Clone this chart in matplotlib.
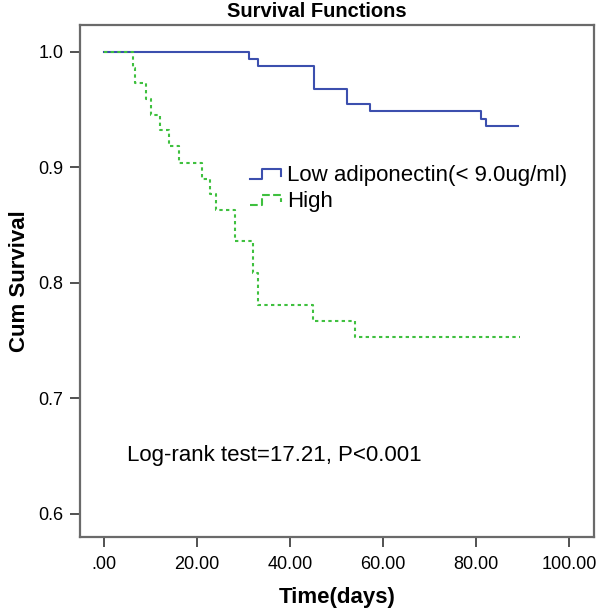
import numpy as np
import matplotlib
matplotlib.use('Agg')
import matplotlib.pyplot as plt
from matplotlib.lines import Line2D
from matplotlib.legend_handler import HandlerBase

plt.rcParams['font.family'] = ['Liberation Sans', 'DejaVu Sans']

# Kaplan-Meier steps
low_days = [0, 31.2, 33.2, 45.2, 52.2, 57.1, 81.1, 82.2, 89.0]
low_surv = [1.0, 0.9935, 0.9871, 0.9677, 0.9548, 0.9484, 0.9419, 0.9355, 0.9355]

high_days = [0, 6.2, 6.7, 9.0, 10.0, 12.0, 14.0, 16.1, 21.0, 22.8, 24.1, 28.1,
             32.1, 33.0, 45.0, 54.0, 89.5]
high_surv = [1.0, 0.986, 0.973, 0.959, 0.945, 0.932, 0.918, 0.904, 0.890, 0.877,
             0.863, 0.836, 0.808, 0.781, 0.767, 0.753, 0.753]

xticks = [0, 20, 40, 60, 80, 100]
xlabels = ['.00', '20.00', '40.00', '60.00', '80.00', '100.00']
yticks = [0.6, 0.7, 0.8, 0.9, 1.0]

blue = '#3c4fae'
green = '#3fc03f'


class StepHandler(HandlerBase):
    def create_artists(self, legend, orig, xd, yd, w, h, fs, trans):
        xs = [xd, xd + 0.4 * w, xd + 0.4 * w, xd + w, xd + w]
        ys = [yd + 0.1 * h, yd + 0.1 * h, yd + 0.75 * h, yd + 0.75 * h, yd + 0.3 * h]
        ln = Line2D(xs, ys, color=orig.get_color(), lw=orig.get_linewidth(),
                    linestyle=orig.get_linestyle(), transform=trans)
        return [ln]


fig = plt.figure(figsize=(5.98, 6.12), dpi=100)
ax = fig.add_axes([0.1338, 0.1225, 0.8595, 0.8367])

l1, = ax.step(low_days, low_surv, where='post', color=blue, lw=1.5,
              label='Low adiponectin(< 9.0ug/ml)')
l2, = ax.step(high_days, high_surv, where='post', color=green, lw=1.5,
              linestyle=(0, (1.6, 1.6)), label='High')

ax.set_xlim(-5.2, 105.4)
ax.set_ylim(0.58, 1.023)
ax.set_xticks(xticks)
ax.set_xticklabels(xlabels)
ax.set_yticks(yticks)
ax.set_yticklabels(['%.1f' % v for v in yticks])
ax.tick_params(axis='both', labelsize=13, length=7, width=1.2, color='#333333', pad=5)
ax.tick_params(axis='x', pad=7)

for sp in ax.spines.values():
    sp.set_color('#6a6a6a')
    sp.set_linewidth(1.6)

ax.set_xlabel('Time(days)', fontsize=16, fontweight='bold', labelpad=10)
ax.set_ylabel('Cum Survival', fontsize=16, fontweight='bold', labelpad=6)
fig.text(0.53, 0.982, 'Survival Functions', fontsize=14.5, fontweight='bold',
         ha='center', va='center')

ax.legend(handles=[l1, l2], loc='upper left', bbox_to_anchor=(0.33, 0.727),
          frameon=False, fontsize=16, handlelength=1.4, handletextpad=0.3,
          labelspacing=0.22, borderpad=0, borderaxespad=0,
          handler_map={Line2D: StepHandler()})

ax.text(0.091, 0.16, 'Log-rank test=17.21, P<0.001', transform=ax.transAxes,
        fontsize=16, va='center', ha='left')

fig.savefig('out.png', dpi=100)
